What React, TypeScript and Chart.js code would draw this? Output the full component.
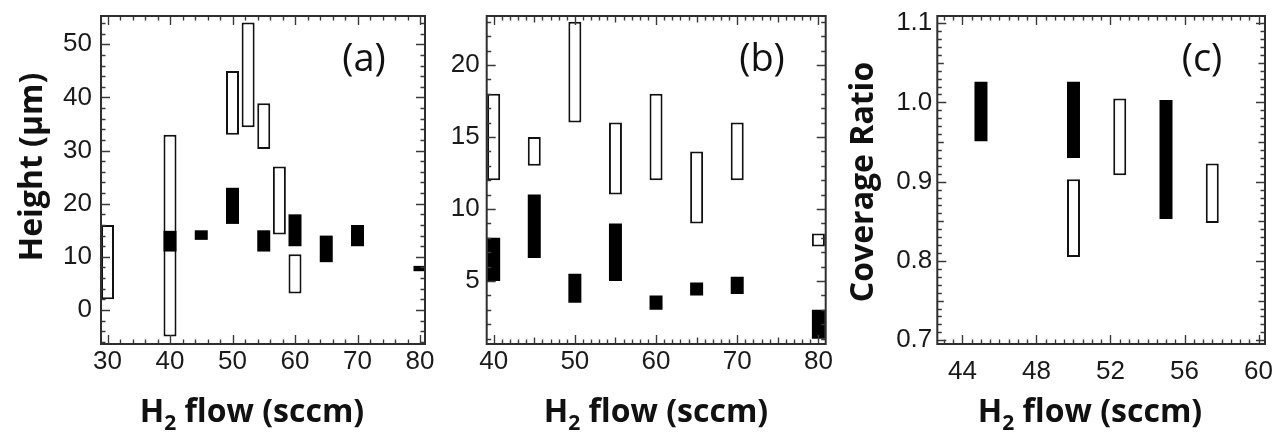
import React, { useEffect, useRef } from 'react';
import { Chart, registerables } from 'chart.js';
Chart.register(...registerables);

// ---------- Panel (a): Height (μm) vs H2 flow ----------
const aOpenX = [30, 40, 50, 52.5, 55, 57.5, 60];
const aOpenLow = [2, -5, 33, 34.4, 30.3, 14.2, 3.1];
const aOpenHigh = [16, 33, 45, 54.1, 38.9, 27, 10.5];
const aFillX = [40, 45, 50, 55, 60, 65, 70, 80];
const aFillLow = [11, 13.2, 16.2, 11, 12, 9, 12, 7.3];
const aFillHigh = [14.9, 15, 23, 15, 18, 14, 16, 8.3];

// ---------- Panel (b) ----------
const bOpenX = [40, 45, 50, 55, 60, 65, 70, 80];
const bOpenLow = [12, 13, 16, 11, 12, 9, 12, 7.4];
const bOpenHigh = [18, 15, 23, 16, 18, 14, 16, 8.3];
const bFillX = [40, 45, 50, 55, 60, 65, 70, 80];
const bFillLow = [5, 6.6, 3.5, 5, 3, 4, 4.1, 1];
const bFillHigh = [8, 11, 5.5, 9, 4, 4.9, 5.3, 3];

// ---------- Panel (c): Coverage Ratio ----------
const cOpenX = [50, 52.5, 57.5];
const cOpenLow = [0.805, 0.908, 0.848];
const cOpenHigh = [0.903, 1.005, 0.923];
const cFillX = [45, 50, 55];
const cFillLow = [0.951, 0.93, 0.853];
const cFillHigh = [1.026, 1.026, 1.003];

// axis steps (major = labelled tick)
const aXSteps = { minor: 2, mid: 10, major: 10 };
const aYSteps = { minor: 2, mid: 10, major: 10 };
const bXSteps = { minor: 1, mid: 5, major: 10 };
const bYSteps = { minor: 1, mid: 5, major: 5 };
const cXSteps = { minor: 0.5, mid: 4, major: 4 };
const cYSteps = { minor: 0.01, mid: 0.05, major: 0.1 };

const xTitle = ['H', '2', ' flow (sccm)'];

type Steps = { minor: number; mid: number; major: number };
type PanelCfg = {
  tag: string;
  left: number;
  width: number;
  area: { left: number; right: number; top: number; bottom: number };
  xRange: [number, number];
  yRange: [number, number];
  xSteps: Steps;
  ySteps: Steps;
  yDecimals: number;
  yLabelPad: number;
  xLabelPad: number;
  yTitle?: string;
  yTitleX?: number;
  yTitleY?: number;
  xTitleX: number;
  tagX: number;
  open: { x: number[]; lo: number[]; hi: number[] };
  fill: { x: number[]; lo: number[]; hi: number[] };
};

const panels: PanelCfg[] = [
  {
    tag: '(a)', left: 0, width: 440,
    area: { left: 101, right: 425, top: 16, bottom: 344 },
    xRange: [28.96, 80.8], yRange: [-6.4, 55.33],
    xSteps: aXSteps, ySteps: aYSteps, yDecimals: 0,
    yLabelPad: 9, xLabelPad: 2,
    yTitle: 'Height (\u03bcm)', yTitleX: 42, yTitleY: 167,
    xTitleX: 252, tagX: 364,
    open: { x: aOpenX, lo: aOpenLow, hi: aOpenHigh },
    fill: { x: aFillX, lo: aFillLow, hi: aFillHigh },
  },
  {
    tag: '(b)', left: 440, width: 400,
    area: { left: 46.7, right: 385.7, top: 16, bottom: 344 },
    xRange: [39.14, 80.9], yRange: [0.63, 23.4],
    xSteps: bXSteps, ySteps: bYSteps, yDecimals: 0,
    yLabelPad: 7, xLabelPad: 2,
    xTitleX: 216, tagX: 322,
    open: { x: bOpenX, lo: bOpenLow, hi: bOpenHigh },
    fill: { x: bFillX, lo: bFillLow, hi: bFillHigh },
  },
  {
    tag: '(c)', left: 840, width: 436,
    area: { left: 97.3, right: 425, top: 16, bottom: 344 },
    xRange: [42.64, 60.35], yRange: [0.6953, 1.109],
    xSteps: cXSteps, ySteps: cYSteps, yDecimals: 1,
    yLabelPad: 5, xLabelPad: 12,
    yTitle: 'Coverage Ratio', yTitleX: 33, yTitleY: 182,
    xTitleX: 250, tagX: 362,
    open: { x: cOpenX, lo: cOpenLow, hi: cOpenHigh },
    fill: { x: cFillX, lo: cFillLow, hi: cFillHigh },
  },
];

const isMult = (v: number, step: number) => {
  const r = v / step;
  return Math.abs(r - Math.round(r)) < 1e-6;
};

const H = 433;

function makeDecor(cfg: PanelCfg) {
  return {
    id: 'decor-' + cfg.tag,
    afterDatasetsDraw(chart: any) {
      const ctx: CanvasRenderingContext2D = chart.ctx;
      const { left, right, top, bottom } = chart.chartArea;
      const xs = chart.scales.x;
      const ys = chart.scales.y;
      ctx.save();
      // tick marks, inward on all sides
      ctx.strokeStyle = '#3a3a3a';
      ctx.lineWidth = 1.4;
      const len = (v: number, s: Steps) => (isMult(v, s.major) ? 9 : isMult(v, s.mid) ? 6.5 : 4.5);
      ctx.beginPath();
      xs.ticks.forEach((t: any) => {
        const p = Math.round(xs.getPixelForValue(t.value)) + 0.5;
        const l = len(t.value, cfg.xSteps);
        ctx.moveTo(p, bottom); ctx.lineTo(p, bottom - l);
        ctx.moveTo(p, top); ctx.lineTo(p, top + l);
      });
      ys.ticks.forEach((t: any) => {
        const p = Math.round(ys.getPixelForValue(t.value)) + 0.5;
        const l = len(t.value, cfg.ySteps);
        ctx.moveTo(left, p); ctx.lineTo(left + l, p);
        ctx.moveTo(right, p); ctx.lineTo(right - l, p);
      });
      ctx.stroke();
      // frame
      ctx.strokeStyle = '#2e2e2e';
      ctx.lineWidth = 2;
      ctx.strokeRect(left, top, right - left, bottom - top);

      // panel tag
      ctx.fillStyle = '#111';
      ctx.font = '38px "Open Sans"';
      ctx.textAlign = 'center';
      ctx.textBaseline = 'middle';
      ctx.fillText(cfg.tag, cfg.tagX, 60);

      // x title with subscript
      ctx.textBaseline = 'alphabetic';
      ctx.textAlign = 'left';
      const big = 'bold 32px "Open Sans"';
      const small = 'bold 21px "Open Sans"';
      ctx.font = big;
      const w1 = ctx.measureText(xTitle[0]).width;
      const w3 = ctx.measureText(xTitle[2]).width;
      ctx.font = small;
      const w2 = ctx.measureText(xTitle[1]).width;
      let x0 = cfg.xTitleX - (w1 + w2 + w3) / 2;
      const base = 422;
      ctx.font = big;
      ctx.fillText(xTitle[0], x0, base);
      x0 += w1;
      ctx.font = small;
      ctx.fillText(xTitle[1], x0, base + 8);
      x0 += w2;
      ctx.font = big;
      ctx.fillText(xTitle[2], x0, base);

      // y title
      if (cfg.yTitle) {
        ctx.save();
        ctx.translate(cfg.yTitleX!, cfg.yTitleY!);
        ctx.rotate(-Math.PI / 2);
        ctx.textAlign = 'center';
        ctx.font = big;
        ctx.fillText(cfg.yTitle, 0, 0);
        ctx.restore();
      }
      ctx.restore();
    },
  };
}

function Panel({ cfg }: { cfg: PanelCfg }) {
  const ref = useRef<HTMLCanvasElement>(null);
  useEffect(() => {
    const pts = (s: { x: number[]; lo: number[]; hi: number[] }) =>
      s.x.map((x, i) => ({ x, y: [s.lo[i], s.hi[i]] }));
    const common = {
      barThickness: 13,
      grouped: false,
      clip: 0,
      borderSkipped: false,
      inflateAmount: 0,
    };
    const tickFont = { family: '"Liberation Sans", Arial, sans-serif', size: 26 };
    const zeroPad = (scale: any) => {
      scale.paddingLeft = 0; scale.paddingRight = 0;
      scale.paddingTop = 0; scale.paddingBottom = 0;
    };
    const chart = new Chart(ref.current!, {
      type: 'bar',
      data: {
        datasets: [
          { ...common, label: 'filled', data: pts(cfg.fill) as any, backgroundColor: '#000', borderWidth: 0 },
          { ...common, label: 'open', data: pts(cfg.open) as any, backgroundColor: '#fff', borderColor: '#111', borderWidth: 2 },
        ],
      },
      options: {
        animation: false,
        responsive: false,
        events: [],
        layout: {
          padding: { left: 0, top: cfg.area.top, right: cfg.width - cfg.area.right, bottom: 0 },
        },
        plugins: { legend: { display: false }, tooltip: { enabled: false }, title: { display: false } },
        scales: {
          x: {
            type: 'linear',
            position: 'bottom',
            min: cfg.xRange[0],
            max: cfg.xRange[1],
            offset: false,
            grid: { display: false, drawTicks: false, offset: false },
            border: { display: false },
            ticks: {
              stepSize: cfg.xSteps.minor,
              includeBounds: false,
              autoSkip: false,
              maxRotation: 0,
              minRotation: 0,
              maxTicksLimit: 1000,
              padding: cfg.xLabelPad,
              font: tickFont,
              color: '#1a1a1a',
              callback: (v: any) => (isMult(Number(v), cfg.xSteps.major) ? String(Math.round(Number(v))) : ''),
            },
            afterFit: (scale: any) => { scale.height = H - cfg.area.bottom; zeroPad(scale); },
          },
          y: {
            type: 'linear',
            min: cfg.yRange[0],
            max: cfg.yRange[1],
            beginAtZero: false,
            grid: { display: false, drawTicks: false },
            border: { display: false },
            ticks: {
              stepSize: cfg.ySteps.minor,
              includeBounds: false,
              autoSkip: false,
              maxTicksLimit: 1000,
              padding: cfg.yLabelPad,
              font: tickFont,
              color: '#1a1a1a',
              callback: (v: any) => (isMult(Number(v), cfg.ySteps.major) ? Number(v).toFixed(cfg.yDecimals) : ''),
            },
            afterFit: (scale: any) => { scale.width = cfg.area.left; zeroPad(scale); },
          },
        },
      } as any,
      plugins: [makeDecor(cfg)],
    });
    return () => chart.destroy();
  }, []);
  return (
    <canvas
      ref={ref}
      width={cfg.width}
      height={H}
      style={{ position: 'absolute', left: cfg.left, top: 0 }}
    />
  );
}

export default function App() {
  return (
    <div style={{ position: 'fixed', left: 0, top: 0, width: 1276, height: H, background: '#fff', overflow: 'hidden' }}>
      {panels.map((p) => (
        <Panel key={p.tag} cfg={p} />
      ))}
    </div>
  );
}
